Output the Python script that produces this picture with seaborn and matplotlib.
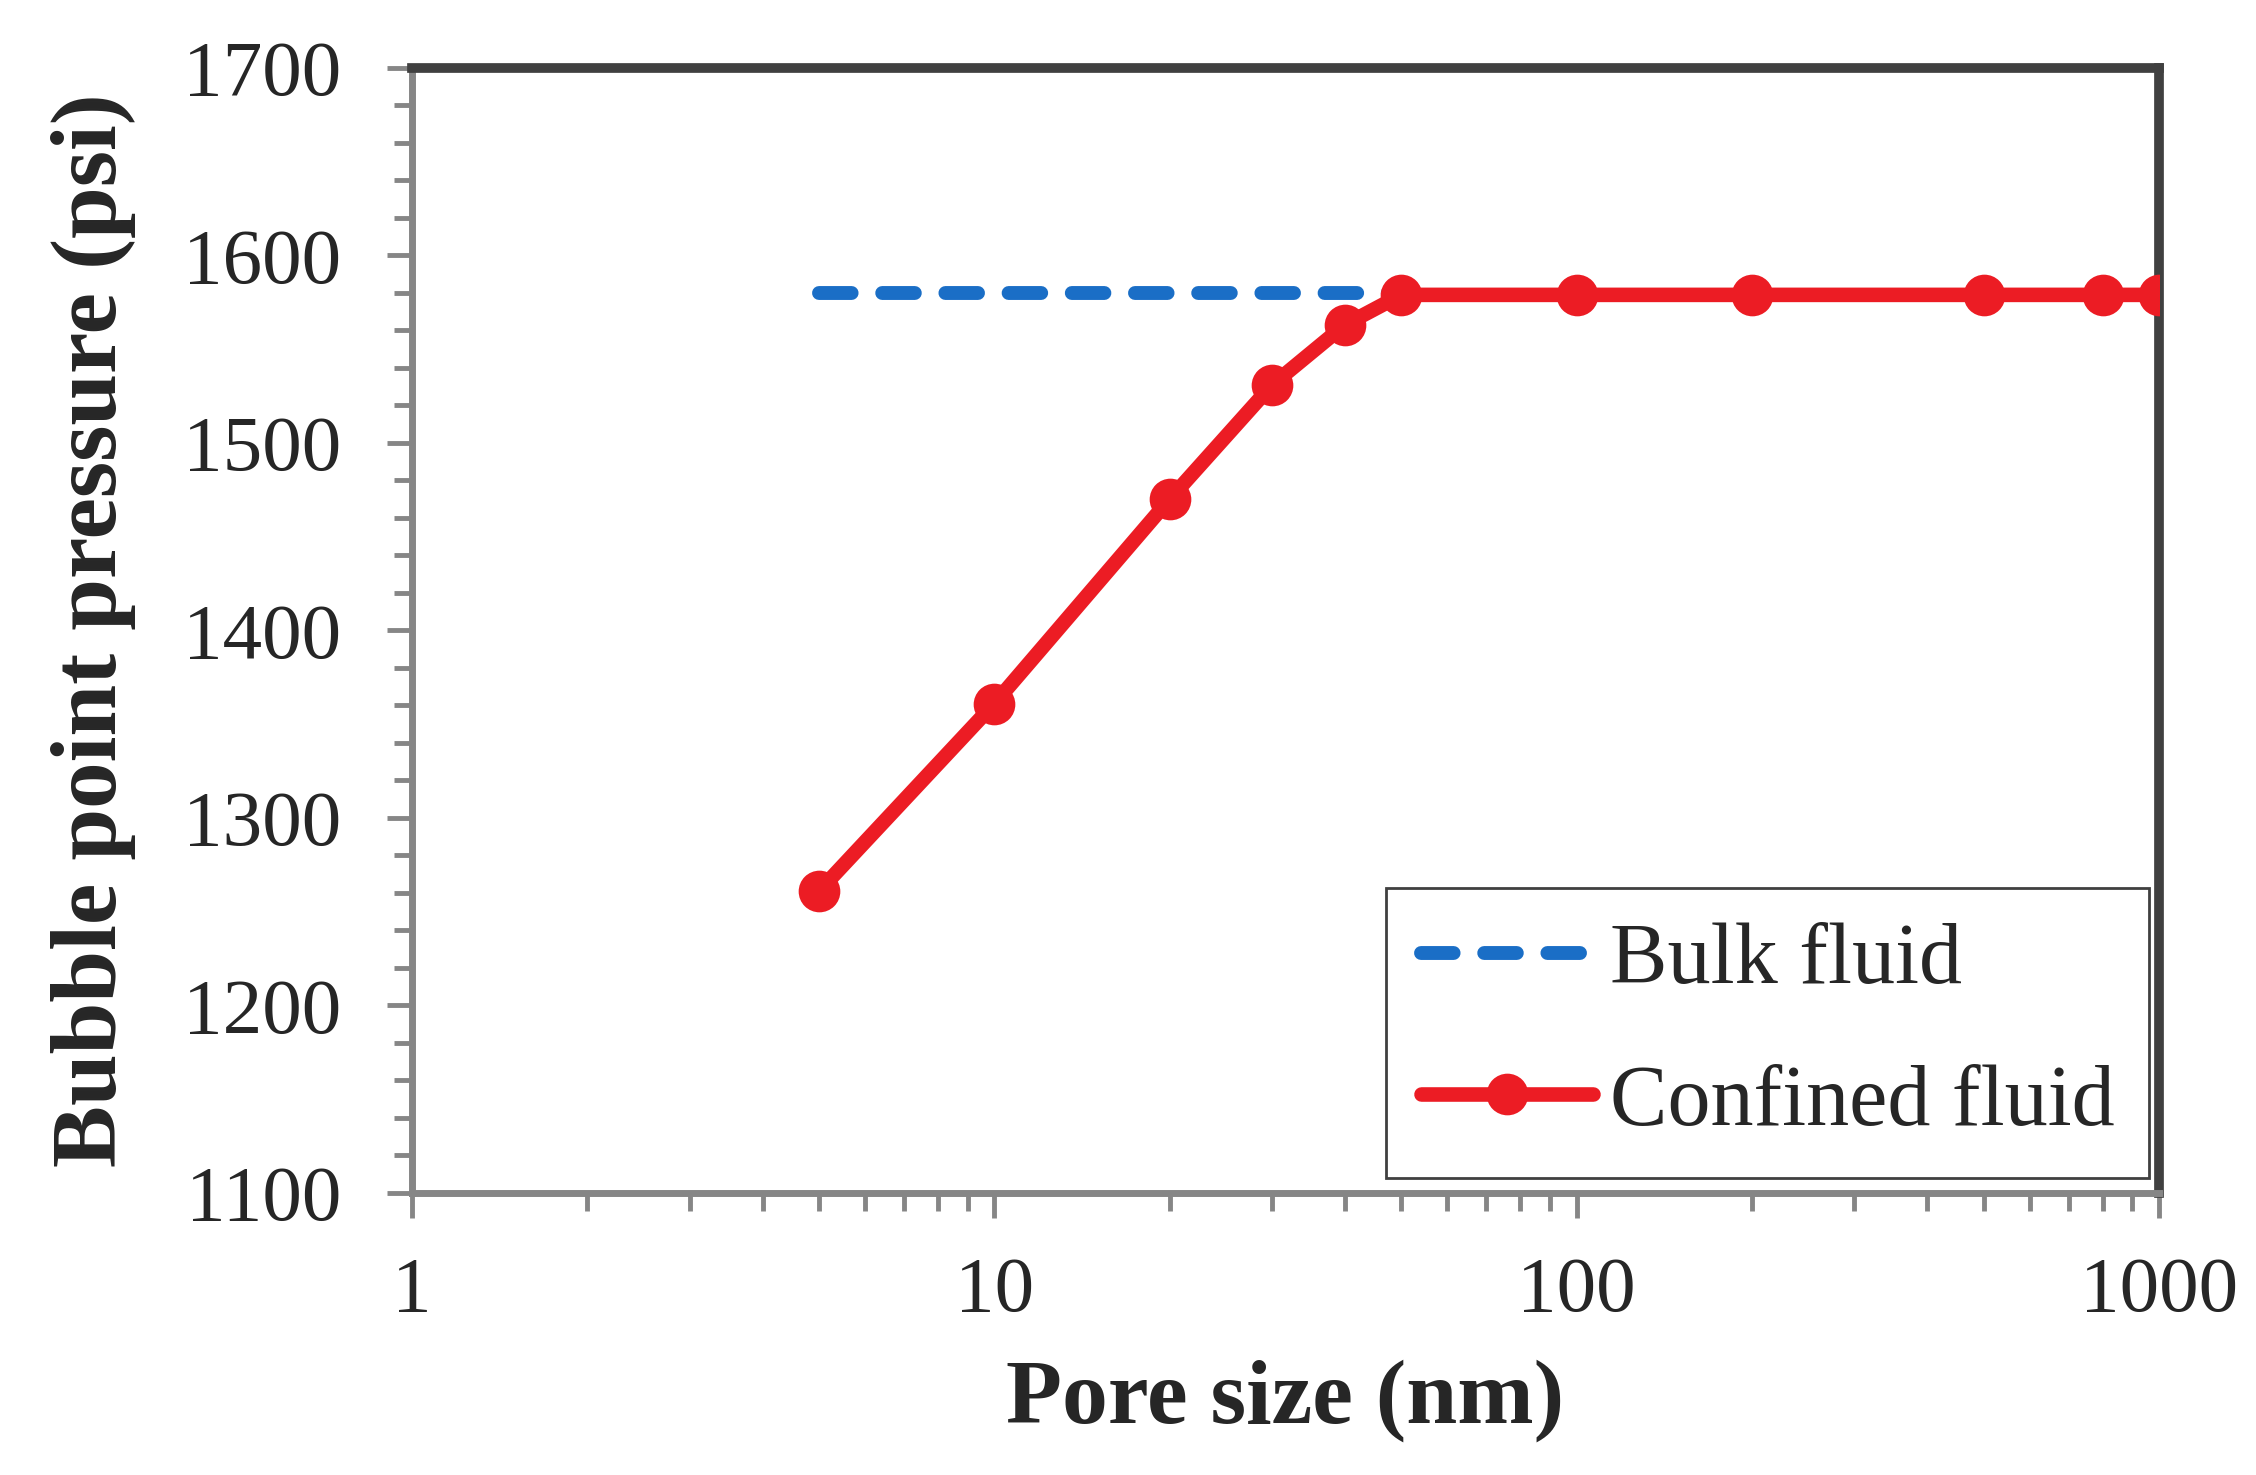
import numpy as np
import pandas as pd
import matplotlib
matplotlib.use("Agg")
import matplotlib.pyplot as plt
from matplotlib.ticker import FixedLocator, NullFormatter, FuncFormatter, MultipleLocator
import seaborn as sns

# data
pore_size = [5, 10, 20, 30, 40, 50, 100, 200, 500, 800, 1000]
confined_p = [1261, 1361, 1470, 1531, 1563, 1579, 1579, 1579, 1579, 1579, 1579]
bulk_size = [5, 10, 20, 30, 40, 50]
bulk_p = [1580, 1580, 1580, 1580, 1580, 1580]

x_ticks = [1, 10, 100, 1000]
y_ticks = [1100, 1200, 1300, 1400, 1500, 1600, 1700]

sns.set_style("white")
plt.rcParams['font.family'] = ['Liberation Serif', 'DejaVu Serif']

fig = plt.figure(figsize=(22.56, 14.75), dpi=100)
ax = fig.add_axes([0.1826, 0.1912, 0.7744, 0.7627])

bulk = pd.DataFrame({"size": bulk_size, "p": bulk_p})
conf = pd.DataFrame({"size": pore_size, "p": confined_p})

sns.lineplot(data=bulk, x="size", y="p", ax=ax, color="#1a6ec6", linewidth=10,
             label="Bulk fluid", zorder=2)
bl = ax.lines[-1]
bl.set_dashes([2.35, 2.2])
bl.set_dash_capstyle("round")
sns.lineplot(data=conf, x="size", y="p", ax=ax, color="#ec1c24", linewidth=10.5,
             marker="o", markersize=30, markeredgewidth=0, label="Confined fluid", zorder=3)
ax.lines[-1].set_solid_capstyle("round")

ax.set_xscale("log")
ax.set_xlim(1, 1000)
ax.set_ylim(1100, 1700)
ax.xaxis.set_major_locator(FixedLocator(x_ticks))
ax.xaxis.set_major_formatter(FuncFormatter(lambda v, p: "%d" % v))
ax.xaxis.set_minor_locator(FixedLocator([m * 10 ** e for e in range(0, 3) for m in range(2, 10)]))
ax.xaxis.set_minor_formatter(NullFormatter())
ax.yaxis.set_major_locator(FixedLocator(y_ticks))
ax.yaxis.set_minor_locator(MultipleLocator(20))

ax.tick_params(axis="both", which="major", direction="out", length=18, width=3.5,
               color="#868686", labelsize=57)
ax.tick_params(axis="both", which="minor", direction="out", length=13, width=3.5,
               color="#868686")
ax.tick_params(axis="y", which="major", pad=33)
ax.tick_params(axis="x", which="major", pad=28)
ax.tick_params(bottom=True, left=True, which="both")

for s in ["top", "right"]:
    ax.spines[s].set_color("#404040")
    ax.spines[s].set_linewidth(7)
for s in ["left", "bottom"]:
    ax.spines[s].set_color("#868686")
    ax.spines[s].set_linewidth(5)

ax.set_xlabel("Pore size (nm)", fontsize=66, fontweight="bold", labelpad=22)
ax.set_ylabel("Bubble point pressure (psi)", fontsize=67, fontweight="bold", labelpad=34)

leg = ax.legend(loc="lower right", bbox_to_anchor=(0.9943, 0.0133), fontsize=62,
                frameon=True, fancybox=False, edgecolor="#404040", handlelength=2.0,
                handletextpad=0.2, borderpad=0.4, labelspacing=0.72, borderaxespad=0)
leg.get_frame().set_linewidth(2)
leg.get_frame().set_alpha(1)

fig.savefig("out.png", dpi=100)
